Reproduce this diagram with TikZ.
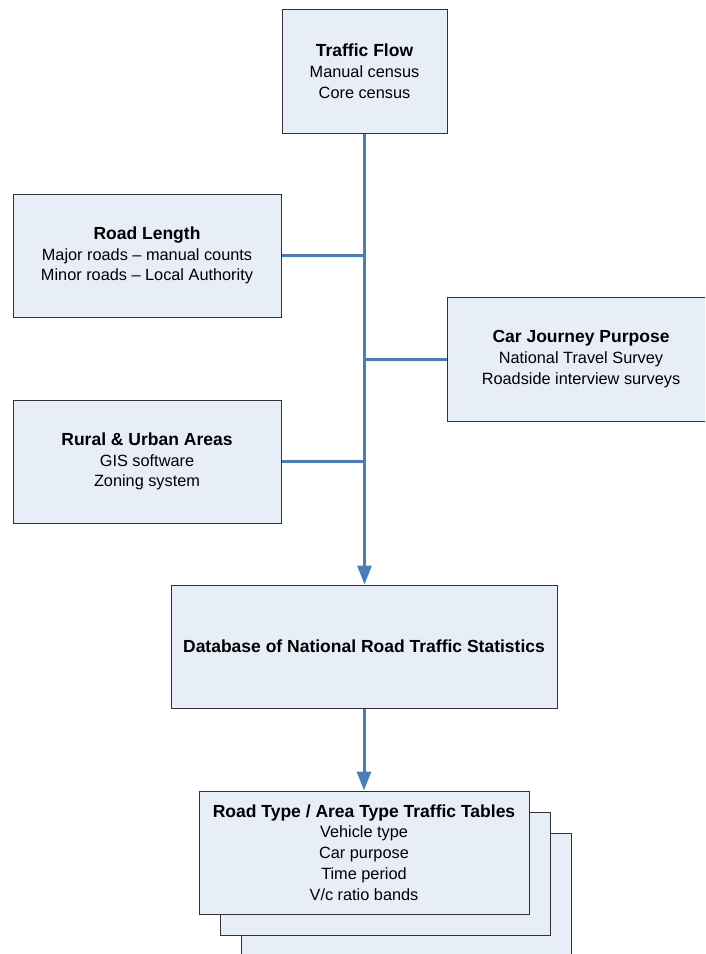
\documentclass[tikz,border=0pt]{standalone}
\usepackage{fontspec}
\setmainfont{Liberation Sans}
\usetikzlibrary{arrows.meta}
\definecolor{boxfill}{RGB}{232,238,247}
\definecolor{boxline}{RGB}{50,50,55}
\definecolor{linkblue}{RGB}{74,126,187}
% bold heading line inside a box, set a little larger than the body lines
\newcommand\boxtitle[1]{{\fontsize{17.5}{20.8}\selectfont\bfseries #1}}

\begin{document}
\begin{tikzpicture}[x=1pt,y=-1pt,
  box/.style={draw=boxline,fill=boxfill,line width=1pt,rectangle,inner sep=0pt,
    align=center,font=\fontsize{16.3}{20.8}\selectfont,text=black},
  link/.style={draw=linkblue,line width=3pt},
  arrowlink/.style={link,-{Triangle[length=19pt,width=14pt]}}]

\useasboundingbox (0,0) rectangle (705,954);
\clip (0,0) rectangle (705,954);
\fill[white] (0,0) rectangle (705,954);

% source boxes
\node[box,minimum width=165pt,minimum height=124pt] (flow) at (364.5,71)
  {\boxtitle{Traffic Flow}\\Manual census\\Core census};
\node[box,minimum width=268pt,minimum height=123pt] (length) at (147,255.5)
  {\boxtitle{Road Length}\\Major roads -- manual counts\\Minor roads -- Local Authority};
\node[box,minimum width=268pt,minimum height=124pt] (purpose) at (581,359)
  {\boxtitle{Car Journey Purpose}\\National Travel Survey\\Roadside interview surveys};
\node[box,minimum width=268pt,minimum height=123pt] (rural) at (147,461.5)
  {\boxtitle{Rural \& Urban Areas}\\GIS software\\Zoning system};

% central database
\node[box,minimum width=386pt,minimum height=123pt] (db) at (364,646.5)
  {\boxtitle{Database of National Road Traffic Statistics}};

% stacked output tables
\node[box,minimum width=330pt,minimum height=123pt] (tables2) at (406,894.5) {};
\node[box,minimum width=330pt,minimum height=123pt] (tables1) at (385,873.5) {};
\node[box,minimum width=330pt,minimum height=123pt] (tables) at (364,852.5)
  {\boxtitle{Road Type / Area Type Traffic Tables}\\Vehicle type\\Car purpose\\Time period\\V/c ratio bands};

% connectors
\coordinate (trunk) at (flow.south |- db.north);
\draw[link] (length.east) -- (length.east -| trunk);
\draw[link] (purpose.west) -- (purpose.west -| trunk);
\draw[link] (rural.east) -- (rural.east -| trunk);
\draw[arrowlink] (flow.south) -- (trunk);
\draw[arrowlink] (db.south) -- (tables.north);
\end{tikzpicture}
\end{document}
